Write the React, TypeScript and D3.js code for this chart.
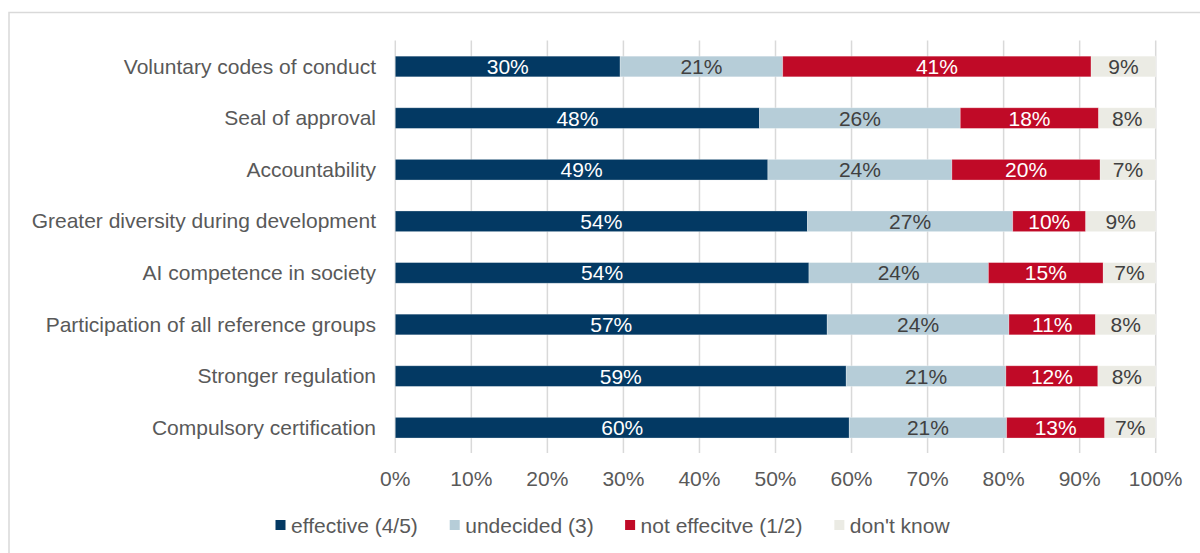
import React from "react";
import * as d3 from "d3";

const categories = [
  "Voluntary codes of conduct",
  "Seal of approval",
  "Accountability",
  "Greater diversity during development",
  "AI competence in society",
  "Participation of all reference groups",
  "Stronger regulation",
  "Compulsory certification",
];

const effective = [29.6, 47.9, 49.0, 54.2, 54.4, 56.8, 59.3, 59.7];
const undecided = [21.4, 26.4, 24.2, 27.0, 23.6, 23.9, 21.0, 20.7];
const notEffective = [40.6, 18.2, 19.5, 9.6, 15.1, 11.4, 12.1, 12.9];
const dontKnow = [8.5, 7.5, 7.3, 9.2, 6.9, 7.9, 7.6, 6.7];

const seriesNames = ["effective (4/5)", "undecided (3)", "not effecitve (1/2)", "don't know"];
const seriesKeys = ["effective", "undecided", "notEffective", "dontKnow"];
const seriesColors = ["#033963", "#b6cdd8", "#c00a27", "#ebebe4"];
const labelColors = ["#ffffff", "#404040", "#ffffff", "#404040"];

const xTicks = [0, 10, 20, 30, 40, 50, 60, 70, 80, 90, 100];

const FONT = "'Liberation Sans', Arial, sans-serif";

export default function App() {
  const width = 1200;
  const height = 553;

  const rows = categories.map((c, i) => ({
    category: c,
    effective: effective[i],
    undecided: undecided[i],
    notEffective: notEffective[i],
    dontKnow: dontKnow[i],
  }));

  const stacked = d3
    .stack<any>()
    .keys(seriesKeys)
    .offset(d3.stackOffsetExpand)(rows);

  const x = d3.scaleLinear().domain([0, 100]).range([395.3, 1155.7]);
  const y = d3
    .scaleBand<string>()
    .domain(categories)
    .range([40.7, 453.5])
    .paddingInner(0.6)
    .paddingOuter(0.3);

  const bw = y.bandwidth();
  const fmt = (v: number) => `${Math.round(v)}%`;

  // legend layout
  const legendFont = 21;
  const charWidths: Record<string, number> = {};
  const measure = (s: string) => {
    // approximate Arial widths for layout
    const w: Record<string, number> = {
      " ": 0.278, "(": 0.333, ")": 0.333, "/": 0.278, "'": 0.191,
      a: 0.556, b: 0.556, c: 0.5, d: 0.556, e: 0.556, f: 0.278, i: 0.222, k: 0.5,
      n: 0.556, o: 0.556, t: 0.278, u: 0.556, v: 0.5, w: 0.722,
    };
    let t = 0;
    for (const ch of s) t += (w[ch] ?? 0.556);
    return t * legendFont;
  };
  void charWidths;
  const legendItems: { name: string; color: string; sx: number; tx: number }[] = [];
  let cx = 275.5;
  seriesNames.forEach((n, i) => {
    legendItems.push({ name: n, color: seriesColors[i], sx: cx, tx: cx + 15.5 });
    cx = cx + 15.5 + measure(n) + 31.5;
  });

  return (
    <svg
      width={width}
      height={height}
      style={{ position: "absolute", left: 0, top: 0 }}
      fontFamily={FONT}
    >
      <rect x={0} y={0} width={width} height={height} fill="#ffffff" />
      <rect
        x={9}
        y={12.5}
        width={1300}
        height={700}
        fill="none"
        stroke="#d9d9d9"
        strokeWidth={1.5}
      />
      {/* gridlines */}
      {xTicks.map((t) => (
        <line
          key={t}
          x1={x(t)}
          x2={x(t)}
          y1={40.5}
          y2={453}
          stroke="#d9d9d9"
          strokeWidth={1.5}
        />
      ))}
      {/* bars */}
      {stacked.map((s, si) => (
        <g key={s.key}>
          {s.map((d, i) => {
            const x0 = x(d[0] * 100);
            const x1 = x(d[1] * 100);
            const yy = y(categories[i]) as number;
            return (
              <rect
                key={i}
                x={x0}
                y={yy}
                width={x1 - x0}
                height={bw}
                fill={seriesColors[si]}
                stroke="#ffffff"
                strokeOpacity={0.35}
                strokeWidth={0.8}
              />
            );
          })}
        </g>
      ))}
      {/* data labels */}
      {stacked.map((s, si) => (
        <g key={"l" + s.key}>
          {s.map((d, i) => {
            const x0 = x(d[0] * 100);
            const x1 = x(d[1] * 100);
            const yy = (y(categories[i]) as number) + bw / 2;
            const raw = (rows[i] as any)[s.key];
            return (
              <text
                key={i}
                x={(x0 + x1) / 2}
                y={yy + 7.5}
                textAnchor="middle"
                fontSize={21}
                fill={labelColors[si]}
              >
                {fmt(raw)}
              </text>
            );
          })}
        </g>
      ))}
      {/* category labels */}
      {categories.map((c) => (
        <text
          key={c}
          x={376}
          y={(y(c) as number) + bw / 2 + 7}
          textAnchor="end"
          fontSize={21}
          fill="#595959"
        >
          {c}
        </text>
      ))}
      {/* x tick labels */}
      {xTicks.map((t) => (
        <text
          key={"t" + t}
          x={x(t)}
          y={486}
          textAnchor="middle"
          fontSize={21}
          fill="#595959"
        >
          {`${t}%`}
        </text>
      ))}
      {/* legend */}
      {legendItems.map((it) => (
        <g key={it.name}>
          <rect x={it.sx} y={520} width={10} height={10} fill={it.color} />
          <text x={it.tx} y={532.5} fontSize={legendFont} fill="#595959">
            {it.name}
          </text>
        </g>
      ))}
    </svg>
  );
}
